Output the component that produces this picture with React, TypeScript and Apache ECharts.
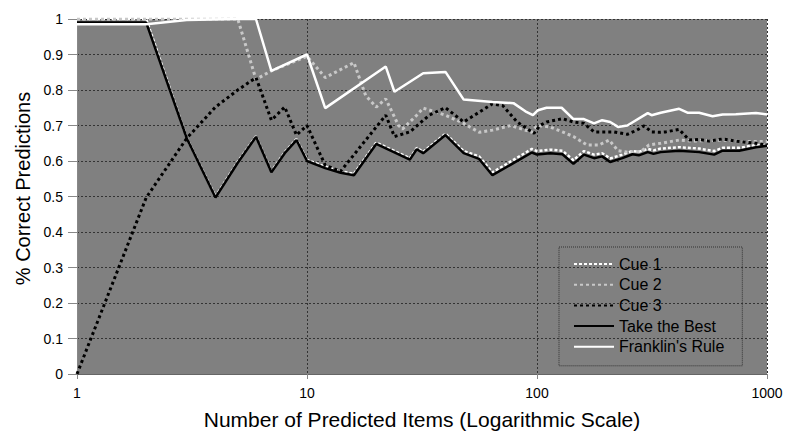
import React, { useEffect, useRef } from "react";
import * as echarts from "echarts";

// Number of predicted items (x) and % correct (y), per series
const cue1N = [1, 2, 3, 4, 5, 6, 7, 8, 9, 10, 12, 14, 16, 20, 28, 30, 32, 40, 48, 56, 64, 95, 100, 114, 129, 144, 160, 177, 192, 208, 235, 260, 277, 303, 321, 345, 415, 507, 589, 641, 757, 895, 1000];
const cue1Pct = [1, 1, 0.665, 0.5, 0.598, 0.67, 0.571, 0.625, 0.662, 0.603, 0.584, 0.571, 0.564, 0.652, 0.608, 0.637, 0.626, 0.677, 0.628, 0.613, 0.568, 0.634, 0.628, 0.632, 0.629, 0.602, 0.628, 0.618, 0.622, 0.607, 0.618, 0.628, 0.626, 0.634, 0.63, 0.635, 0.639, 0.635, 0.628, 0.637, 0.637, 0.645, 0.646];

const cue2N = [1, 2, 3, 4, 5, 6, 7, 10, 12, 16, 18, 20, 22, 25, 26, 30, 32, 40, 48, 56, 64, 77, 95, 100, 114, 129, 144, 165, 186, 206, 225, 247, 283, 307, 345, 415, 475, 641, 780, 1000];
const cue2Pct = [1, 1, 1, 1, 1, 0.83, 0.854, 0.895, 0.835, 0.877, 0.784, 0.752, 0.775, 0.7, 0.69, 0.729, 0.749, 0.729, 0.706, 0.681, 0.687, 0.7, 0.681, 0.7, 0.696, 0.682, 0.669, 0.645, 0.645, 0.659, 0.629, 0.625, 0.627, 0.645, 0.65, 0.659, 0.656, 0.659, 0.655, 0.655];

const cue3N = [1, 2, 3, 4, 5, 6, 7, 8, 9, 10, 12, 14, 22, 24, 28, 34, 40, 48, 64, 71, 82, 97, 103, 110, 129, 144, 160, 177, 216, 247, 272, 292, 315, 345, 363, 415, 459, 507, 560, 641, 732, 895, 1000];
const cue3Pct = [0, 0.497, 0.664, 0.752, 0.8, 0.835, 0.715, 0.752, 0.673, 0.7, 0.588, 0.571, 0.729, 0.669, 0.682, 0.729, 0.75, 0.71, 0.761, 0.756, 0.71, 0.678, 0.7, 0.71, 0.719, 0.71, 0.706, 0.682, 0.682, 0.675, 0.687, 0.699, 0.682, 0.681, 0.682, 0.689, 0.659, 0.661, 0.656, 0.662, 0.656, 0.65, 0.645];

const ttbN = [1, 2, 3, 4, 5, 6, 7, 8, 9, 10, 12, 14, 16, 20, 28, 30, 32, 40, 48, 56, 64, 95, 100, 114, 129, 144, 160, 177, 192, 208, 235, 260, 277, 303, 321, 345, 415, 507, 589, 641, 757, 895, 1000];
const ttbPct = [0.99, 0.99, 0.664, 0.497, 0.595, 0.668, 0.568, 0.622, 0.659, 0.6, 0.58, 0.567, 0.56, 0.648, 0.604, 0.633, 0.622, 0.673, 0.622, 0.606, 0.56, 0.624, 0.618, 0.622, 0.619, 0.592, 0.618, 0.608, 0.613, 0.597, 0.608, 0.619, 0.616, 0.625, 0.62, 0.625, 0.629, 0.625, 0.618, 0.629, 0.629, 0.639, 0.643];

const franklinN = [1, 2, 3, 5, 6, 7, 10, 12, 22, 24, 32, 40, 48, 64, 79, 89, 96, 101, 110, 128, 144, 160, 177, 192, 208, 225, 247, 303, 315, 345, 415, 451, 507, 580, 641, 732, 895, 1000];
const franklinPct = [0.985, 0.985, 0.997, 1, 1, 0.854, 0.9, 0.749, 0.866, 0.795, 0.847, 0.851, 0.773, 0.766, 0.763, 0.74, 0.729, 0.743, 0.75, 0.75, 0.718, 0.718, 0.706, 0.715, 0.71, 0.696, 0.7, 0.735, 0.729, 0.736, 0.747, 0.736, 0.736, 0.726, 0.731, 0.732, 0.735, 0.731];

const seriesNames = ["Cue 1", "Cue 2", "Cue 3", "Take the Best", "Franklin's Rule"];
const xTickLabels = ["1", "10", "100", "1000"];

const zip = (xs: number[], ys: number[]) => xs.map((x, i) => [x, ys[i]]);

const FONT = "'Liberation Sans', Arial, sans-serif";

export default function App() {
  const ref = useRef<HTMLDivElement>(null);
  useEffect(() => {
    if (!ref.current) return;
    const chart = echarts.init(ref.current, undefined, { renderer: "svg" });
    const dotted = (color: string, w: number, dash: number[]) => ({
      color,
      width: w,
      type: dash,
      cap: "butt" as const,
    });
    const mk = (name: string, data: number[][], lineStyle: any, z: number) => ({
      name,
      type: "line",
      data,
      symbol: "none",
      showSymbol: false,
      lineStyle,
      itemStyle: { color: lineStyle.color },
      z,
      emphasis: { disabled: true },
    });
    chart.setOption({
      animation: false,
      textStyle: { fontFamily: FONT },
      grid: {
        left: 77,
        right: 20,
        top: 19,
        bottom: 56,
        show: true,
        backgroundColor: "#808080",
        borderWidth: 0,
      },
      legend: {
        orient: "vertical",
        left: 559,
        top: 247,
        padding: [9, 18, 11, 14],
        itemWidth: 40,
        itemHeight: 14,
        itemGap: 4.7,
        borderColor: "#333",
        borderWidth: 1,
        borderType: "dotted",
        itemStyle: { opacity: 0, borderWidth: 0 },
        textStyle: { fontSize: 16, color: "#000", fontFamily: FONT, lineHeight: 16 },
        data: seriesNames,
      },
      xAxis: {
        type: "log",
        logBase: 10,
        min: 1,
        max: 1000,
        name: "Number of Predicted Items (Logarithmic Scale)",
        nameLocation: "middle",
        nameGap: 35,
        nameTextStyle: { fontSize: 21, color: "#000", fontFamily: FONT },
        axisLine: { show: true, lineStyle: { color: "#666", width: 1 } },
        axisTick: { show: true, length: 5, lineStyle: { color: "#888" } },
        axisLabel: {
          fontSize: 14,
          color: "#000",
          margin: 12,
          fontFamily: FONT,
          formatter: (v: number) => {
            const idx = Math.round(Math.log10(v));
            return xTickLabels[idx] ?? String(v);
          },
        },
        splitLine: { show: true, lineStyle: { color: "#333", width: 1, type: [2, 2] } },
      },
      yAxis: {
        type: "value",
        min: 0,
        max: 1,
        interval: 0.1,
        name: "% Correct Predictions",
        nameLocation: "middle",
        nameGap: 43,
        nameTextStyle: { fontSize: 20, color: "#000", fontFamily: FONT, padding: [0, 0, 0, 16] },
        axisLine: { show: true, lineStyle: { color: "#888", width: 1 } },
        axisTick: { show: true, length: 9, lineStyle: { color: "#888" } },
        axisLabel: { fontSize: 14, color: "#000", margin: 14, fontFamily: FONT },
        splitLine: { show: true, lineStyle: { color: "#333", width: 1, type: [2, 2] } },
      },
      series: [
        mk(seriesNames[0], zip(cue1N, cue1Pct), dotted("#ffffff", 2.5, [3, 2]), 2),
        mk(seriesNames[1], zip(cue2N, cue2Pct), dotted("#c8c8c8", 3, [3, 3]), 3),
        mk(seriesNames[2], zip(cue3N, cue3Pct), dotted("#000000", 3, [3, 3]), 4),
        mk(seriesNames[3], zip(ttbN, ttbPct), { color: "#000000", width: 2.5, type: "solid" }, 5),
        mk(seriesNames[4], zip(franklinN, franklinPct), { color: "#ffffff", width: 2.5, type: "solid" }, 6),
      ],
    });
    return () => chart.dispose();
  }, []);
  return <div ref={ref} style={{ width: 787, height: 435, position: "absolute", left: 0, top: 0 }} />;
}
